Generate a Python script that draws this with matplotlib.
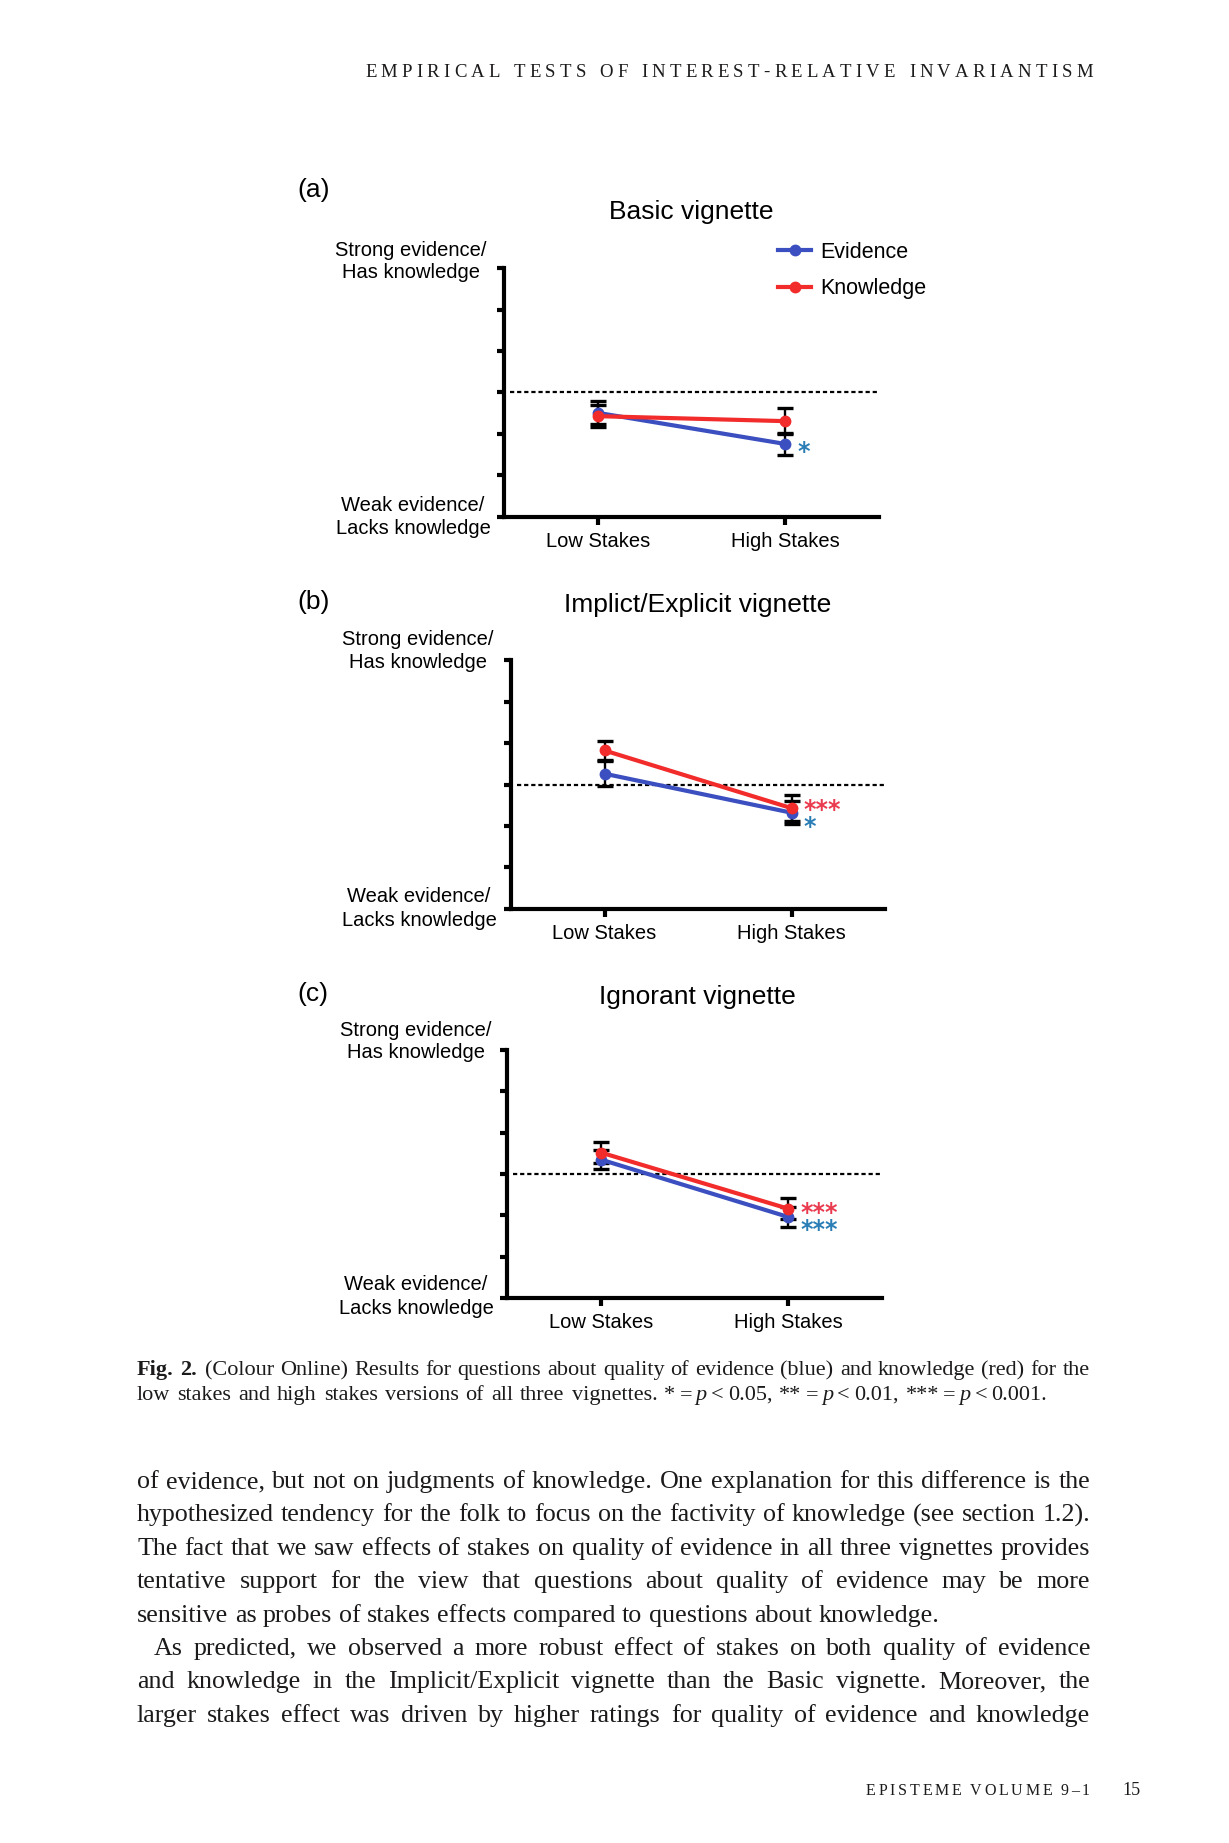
import matplotlib
matplotlib.use('Agg')
import matplotlib.pyplot as plt

W, H = 1229, 1843
SANS = 'Liberation Sans'
SERIF = 'Liberation Serif'
INK = '#1c1a1a'

BLUE = '#3b4fc0'
RED = '#f22b2b'
STAR_BLUE = '#2a7db5'
STAR_RED = '#ea3a4e'

plt.rcParams['font.family'] = SANS

# ---- data (1..7 rating scale) ----
conditions = ['Low Stakes', 'High Stakes']
panel_tags = ['(a)', '(b)', '(c)']
panel_titles = ['Basic vignette', 'Implict/Explicit vignette', 'Ignorant vignette']
evidence_mean = [[3.51, 2.76], [4.26, 3.32], [4.35, 2.96]]
evidence_sem = [[0.28, 0.27], [0.30, 0.28], [0.24, 0.25]]
knowledge_mean = [[3.43, 3.31], [4.82, 3.43], [4.52, 3.16]]
knowledge_sem = [[0.26, 0.32], [0.24, 0.31], [0.26, 0.25]]
evidence_sig = ['*', '*', '***']
knowledge_sig = ['', '***', '***']
scale_ticks = [1, 2, 3, 4, 5, 6, 7]
neutral = 4
top_label = ['Strong evidence/', 'Has knowledge']
bottom_label = ['Weak evidence/', 'Lacks knowledge']

header = 'EMPIRICAL TESTS OF INTEREST-RELATIVE INVARIANTISM'
footer = 'EPISTEME VOLUME 9\u20131'
page_no = '15'
caption_1 = ('(Colour Online) Results for questions about quality of evidence (blue) '
             'and knowledge (red) for the')
caption_2 = 'low stakes and high stakes versions of all three vignettes.'
para_1 = [
    'of evidence, but not on judgments of knowledge. One explanation for this difference is the',
    'hypothesized tendency for the folk to focus on the factivity of knowledge (see section 1.2).',
    'The fact that we saw effects of stakes on quality of evidence in all three vignettes provides',
    'tentative support for the view that questions about quality of evidence may be more',
    'sensitive as probes of stakes effects compared to questions about knowledge.',
]
para_2 = [
    'As predicted, we observed a more robust effect of stakes on both quality of evidence',
    'and knowledge in the Implicit/Explicit vignette than the Basic vignette. Moreover, the',
    'larger stakes effect was driven by higher ratings for quality of evidence and knowledge',
]

# ---- layout (pixels on the page) ----
axes_px = [(504, 268, 879, 517), (511, 660, 885, 909), (507, 1050, 882, 1298)]
tag_y = [190, 602, 994]
title_xy = [(691, 212), (698, 605), (697, 997)]
top_lab = [(411, 250, 272), (418, 640, 662), (416, 1030, 1052)]
bot_lab = [(413, 505, 528), (419, 896, 920), (416, 1285, 1308)]
star_dy_k = [0, -4, -2]
star_dy_e = [2, 8, 7]

fig = plt.figure(figsize=(W / 100, H / 100), dpi=100)
fig.patch.set_facecolor('white')
renderer = fig.canvas.get_renderer()


def fx(x):
    return x / W


def fy(y):
    return 1 - y / H


def width_of(s, **kw):
    t = fig.text(0, 0, s, **kw)
    w = t.get_window_extent(renderer=renderer).width
    t.remove()
    return w


def put(x, y, s, **kw):
    fig.text(fx(x), fy(y), s, ha='left', va='baseline', color=INK, **kw)


def set_line(pieces, x0, x1, y, justify=True):
    # pieces: (text, style, gap factor after it)
    widths = [width_of(s, **st) for s, st, _ in pieces]
    space = width_of('a a', **pieces[-1][1]) - width_of('aa', **pieces[-1][1])
    factors = [g for _, _, g in pieces[:-1]]
    if justify:
        space = (x1 - x0 - sum(widths)) / sum(factors)
    x = x0
    for (s, st, g), w in zip(pieces, widths):
        put(x, y, s, **st)
        x += w + g * space


def words(line, st):
    return [(w, st, 1.0) for w in line.split()]


def spaced(text, x0, x1, y, **kw):
    ws = text.split()
    cw = [[width_of(c, **kw) for c in w] for w in ws]
    ink = sum(sum(c) for c in cw)
    n_in = sum(len(w) - 1 for w in ws)
    g = (x1 - x0 - ink) / (n_in + 3.2 * (len(ws) - 1))
    x = x0
    for w, wid in zip(ws, cw):
        for c, cwid in zip(w, wid):
            put(x, y, c, **kw)
            x += cwid + g
        x += 2.2 * g


def fit_size(lines, targets, **kw):
    ref = 20.0
    return ref * min(t / width_of(l, size=ref, **kw) for l, t in zip(lines, targets)) * 0.99


# ---- running head and folio ----
spaced(header, 365, 1093, 77, family=SERIF, size=13.5)
spaced(footer, 866, 1090, 1795, family=SERIF, size=11.5)
put(1122, 1795, page_no, family=SERIF, size=13)

# ---- panels ----
for i in range(3):
    x0, y0, x1, y1 = axes_px[i]
    ax = fig.add_axes([fx(x0), fy(y1), (x1 - x0) / W, (y1 - y0) / H])
    xs = range(len(conditions))
    ax.axhline(neutral, xmin=0.016, color='black', lw=1.6, dashes=(1.9, 1.3), zorder=1)
    ax.errorbar(xs, evidence_mean[i], yerr=evidence_sem[i], fmt='none', ecolor='black',
                elinewidth=1.7, capsize=6, capthick=2.4, zorder=2)
    ax.errorbar(xs, knowledge_mean[i], yerr=knowledge_sem[i], fmt='none', ecolor='black',
                elinewidth=1.7, capsize=6, capthick=2.4, zorder=2)
    ax.plot(xs, evidence_mean[i], color=BLUE, lw=3, marker='o', ms=7.5,
            label='Evidence', zorder=3)
    ax.plot(xs, knowledge_mean[i], color=RED, lw=3, marker='o', ms=7.5,
            label='Knowledge', zorder=4)

    if knowledge_sig[i]:
        ax.annotate(knowledge_sig[i], xy=(1, knowledge_mean[i][1]),
                    xytext=(8.6, -(star_dy_k[i] + 13.2) * 0.72), textcoords='offset points',
                    ha='left', va='baseline', color=STAR_RED, fontsize=17,
                    family='DejaVu Sans', weight='bold')
    if evidence_sig[i]:
        ax.annotate(evidence_sig[i], xy=(1, evidence_mean[i][1]),
                    xytext=(8.6, -(star_dy_e[i] + 13.2) * 0.72), textcoords='offset points',
                    ha='left', va='baseline', color=STAR_BLUE, fontsize=17,
                    family='DejaVu Sans', weight='bold')

    ax.set_xlim(-0.5, 1.5)
    ax.set_ylim(scale_ticks[0], scale_ticks[-1])
    for side in ['top', 'right']:
        ax.spines[side].set_visible(False)
    for side in ['left', 'bottom']:
        ax.spines[side].set_linewidth(3)
    ax.set_yticks(scale_ticks)
    ax.set_yticklabels([])
    ax.set_xticks(list(xs))
    ax.set_xticklabels(conditions, fontsize=14.5)
    ax.tick_params(axis='y', length=5, width=3)
    ax.tick_params(axis='x', length=5.5, width=3, pad=5.5)
    ax.patch.set_alpha(0)

    if i == 0:
        ax.legend(loc='upper left', bbox_to_anchor=(fx(778), fy(242)),
                  bbox_transform=fig.transFigure, frameon=False, borderpad=0,
                  borderaxespad=0, handlelength=1.55, handletextpad=0.4,
                  labelspacing=0.7, prop={'family': SANS, 'size': 15.5})

    fig.text(fx(297), fy(tag_y[i]), panel_tags[i], ha='left', va='center', fontsize=19)
    fig.text(fx(title_xy[i][0]), fy(title_xy[i][1]), panel_titles[i],
             ha='center', va='center', fontsize=19)
    cx, ya, yb = top_lab[i]
    fig.text(fx(cx), fy(ya), top_label[0], ha='center', va='center', fontsize=14.5)
    fig.text(fx(cx), fy(yb), top_label[1], ha='center', va='center', fontsize=14.5)
    cx, ya, yb = bot_lab[i]
    fig.text(fx(cx), fy(ya), bottom_label[0], ha='center', va='center', fontsize=14.5)
    fig.text(fx(cx), fy(yb), bottom_label[1], ha='center', va='center', fontsize=14.5)

# ---- caption ----
LEFT, RIGHT = 137, 1090
cap_size = fit_size(['Fig. 2. ' + caption_1], [RIGHT - LEFT], family=SERIF)
reg = {'family': SERIF, 'size': cap_size}
bold = {'family': SERIF, 'size': cap_size, 'weight': 'bold'}
ital = {'family': SERIF, 'size': cap_size, 'style': 'italic'}
line1 = [('Fig.', bold, 1.0), ('2.', bold, 1.3)] + words(caption_1, reg)
set_line(line1, LEFT, RIGHT, 1375)
stats = []
for stars, val in [('*', '0.05,'), ('**', '0.01,'), ('***', '0.001.')]:
    stats += [(stars, reg, 0.6), ('=', reg, 0.5), ('p', ital, 0.6), ('<', reg, 0.6), (val, reg, 1.0)]
line2 = words(caption_2, reg) + stats
set_line(line2, LEFT, 1047, 1400, justify=True)

# ---- body text ----
INDENT = 17
body_size = fit_size(para_1[:4] + para_2,
                     [RIGHT - LEFT] * 4 + [RIGHT - LEFT - INDENT] + [RIGHT - LEFT] * 2,
                     family=SERIF)
body = {'family': SERIF, 'size': body_size}
y = 1488
pitch = 33.4
for k, line in enumerate(para_1):
    set_line(words(line, body), LEFT, RIGHT, y, justify=(k < len(para_1) - 1))
    y += pitch
for k, line in enumerate(para_2):
    x_start = LEFT + INDENT if k == 0 else LEFT
    set_line(words(line, body), x_start, RIGHT, y, justify=True)
    y += pitch

fig.savefig('out.png', dpi=100)
